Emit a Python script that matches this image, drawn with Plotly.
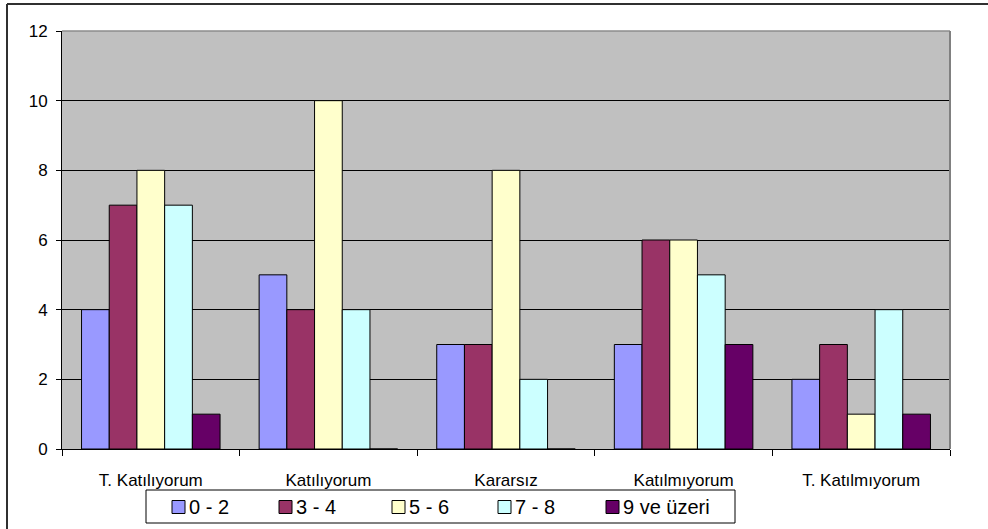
import plotly.graph_objects as go

# Survey responses grouped by answer, one series per age band
categories = ["T. Katılıyorum", "Katılıyorum", "Kararsız", "Katılmıyorum", "T. Katılmıyorum"]
series_names = ["0 - 2", "3 - 4", "5 - 6", "7 - 8", "9 ve üzeri"]
values_0_2 = [4, 5, 3, 3, 2]
values_3_4 = [7, 4, 3, 6, 3]
values_5_6 = [8, 10, 8, 6, 1]
values_7_8 = [7, 4, 2, 5, 4]
values_9_plus = [1, 0, 0, 3, 1]
series_values = [values_0_2, values_3_4, values_5_6, values_7_8, values_9_plus]
colors = ["#9999FF", "#993366", "#FFFFCC", "#CCFFFF", "#660066"]
y_ticks = [0, 2, 4, 6, 8, 10, 12]

W, H = 988, 529
L, R, T, B = 62, 950, 31, 449  # plot area in pixels
FONT = "Liberation Sans, Arial, sans-serif"

fig = go.Figure()
for name, vals, col in zip(series_names, series_values, colors):
    fig.add_trace(go.Bar(
        x=categories, y=vals, name=name,
        marker=dict(color=col, line=dict(color="#000000", width=1)),
        showlegend=False,
    ))

def px_x(px):
    return (px - L) / (R - L)

def px_y(py):
    return (B - py) / (B - T)

shapes = []
# plot-area border on top and right (grey)
shapes.append(dict(type="line", xref="paper", yref="paper", x0=0, x1=1, y0=1, y1=1,
                   line=dict(color="#8C8C8C", width=1.5), layer="above"))
shapes.append(dict(type="line", xref="paper", yref="paper", x0=1, x1=1, y0=0, y1=1,
                   line=dict(color="#808080", width=2), layer="above"))
# outer chart frame (left and top edges)
shapes.append(dict(type="line", xref="paper", yref="paper",
                   x0=px_x(7), x1=px_x(7), y0=px_y(4), y1=px_y(H + 5),
                   line=dict(color="#303030", width=2), layer="above"))
shapes.append(dict(type="line", xref="paper", yref="paper",
                   x0=px_x(7), x1=px_x(W + 5), y0=px_y(4), y1=px_y(4),
                   line=dict(color="#303030", width=2), layer="above"))

# legend box
leg_x0, leg_x1, leg_y0, leg_y1 = 146, 735, 490, 523
shapes.append(dict(type="rect", xref="paper", yref="paper",
                   x0=px_x(leg_x0), x1=px_x(leg_x1), y0=px_y(leg_y1), y1=px_y(leg_y0),
                   line=dict(color="#000000", width=1), fillcolor="#FFFFFF"))
annotations = []
legend_item_x = [172, 279, 392, 498, 606]
sq = 13
cy = 507
for name, col, lx in zip(series_names, colors, legend_item_x):
    shapes.append(dict(type="rect", xref="paper", yref="paper",
                       x0=px_x(lx), x1=px_x(lx + sq), y0=px_y(cy + sq / 2), y1=px_y(cy - sq / 2),
                       line=dict(color="#000000", width=1), fillcolor=col))
    annotations.append(dict(xref="paper", yref="paper", x=px_x(lx + sq + 2), y=px_y(cy),
                            xanchor="left", yanchor="middle", showarrow=False, text=name,
                            font=dict(family=FONT, size=20, color="#000000")))

fig.update_layout(
    width=W, height=H,
    margin=dict(l=L, r=W - R, t=T, b=H - B, pad=0),
    paper_bgcolor="#FFFFFF", plot_bgcolor="#C0C0C0",
    barmode="group", bargap=0.22, bargroupgap=0,
    showlegend=False,
    shapes=shapes, annotations=annotations,
    font=dict(family=FONT, size=17, color="#000000"),
)
fig.update_xaxes(
    showline=True, linecolor="#000000", linewidth=1,
    ticks="outside", tickson="boundaries", ticklen=6, tickcolor="#000000",
    tickfont=dict(family=FONT, size=17, color="#000000"),
    ticklabelstandoff=16, showgrid=False, fixedrange=True,
)
fig.update_yaxes(
    range=[0, 12], tickvals=y_ticks,
    showline=True, linecolor="#000000", linewidth=1,
    ticks="outside", ticklen=5, tickcolor="#000000",
    showgrid=True, gridcolor="#000000", gridwidth=1,
    zeroline=False, ticklabelstandoff=5,
    tickfont=dict(family=FONT, size=17, color="#000000"),
    fixedrange=True,
)

fig.write_html("out.html", config={"displayModeBar": False})
